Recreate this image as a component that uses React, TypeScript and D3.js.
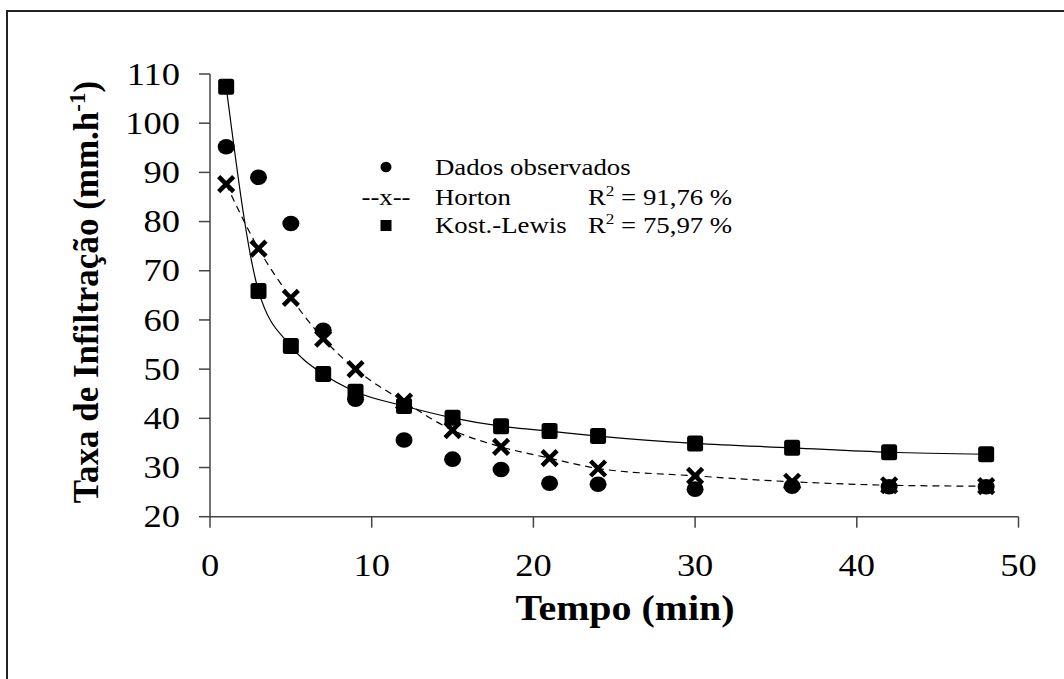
import React from "react";
import * as d3 from "d3";

// tempo (min) das leituras
const tempos = [1, 3, 5, 7, 9, 12, 15, 18, 21, 24, 30, 36, 42, 48];
// taxa de infiltração (mm/h)
const observados = [95.2, 89.0, 79.6, 57.9, 43.9, 35.6, 31.7, 29.6, 26.8, 26.6, 25.6, 26.2, 26.1, 26.1];
const horton = [87.6, 74.5, 64.5, 56.2, 50.0, 43.4, 37.6, 34.2, 31.9, 29.8, 28.3, 27.1, 26.4, 26.2];
const kostLewis = [107.4, 65.9, 54.7, 49.0, 45.4, 42.5, 40.1, 38.4, 37.4, 36.4, 34.9, 34.0, 33.1, 32.7];
const xTicks = [0, 10, 20, 30, 40, 50];
const yTicks = [20, 30, 40, 50, 60, 70, 80, 90, 100, 110];

const W = 1064;
const H = 679;
const plot = { left: 210, right: 1018.5, top: 74, bottom: 516.7 };
const SX = 1.14; // glyph stretch of the original picture
const font = "'Times New Roman', 'Liberation Serif', 'DejaVu Serif', serif";

const x = d3.scaleLinear().domain([0, 50]).range([plot.left, plot.right]);
const y = d3.scaleLinear().domain([20, 110]).range([plot.bottom, plot.top]);

const line = d3
    .line<number>()
    .x((d, i) => x(tempos[i]))
    .y((d) => y(d))
    .curve(d3.curveMonotoneX);

const Cross = ({ cx, cy, s = 7.5 }: { cx: number; cy: number; s?: number }) => (
    <path
        d={`M${cx - s},${cy - s}L${cx + s},${cy + s}M${cx - s},${cy + s}L${cx + s},${cy - s}`}
        stroke="#000"
        strokeWidth={4.5}
        fill="none"
    />
);

const Square = ({ cx, cy, s = 16 }: { cx: number; cy: number; s?: number }) => (
    <rect x={cx - s / 2} y={cy - s / 2} width={s} height={s} rx={2.5} fill="#000" />
);

const Dot = ({ cx, cy }: { cx: number; cy: number }) => (
    <ellipse cx={cx} cy={cy} rx={8.5} ry={7.8} fill="#000" />
);

const App = () => {
    const legendX = 386;
    const textX = 435;
    const r2X = 588;
    const rows = [175, 205, 233];

    return (
        <svg
            width={W}
            height={H}
            style={{ position: "absolute", left: 0, top: 0, background: "#fff" }}
            fontFamily={font}
        >
            <rect x={7} y={11} width={W + 20} height={H + 20} fill="#fff" stroke="#222" strokeWidth={2} />

            {/* eixos */}
            <line x1={plot.left} x2={plot.left} y1={plot.top} y2={plot.bottom} stroke="#444" strokeWidth={1.5} />
            <line x1={plot.left} x2={plot.right} y1={plot.bottom} y2={plot.bottom} stroke="#444" strokeWidth={1.5} />
            {yTicks.map((t) => (
                <g key={"y" + t}>
                    <line x1={plot.left - 11} x2={plot.left} y1={y(t)} y2={y(t)} stroke="#444" strokeWidth={1.5} />
                    <text
                        transform={`translate(180,${y(t)}) scale(${SX},1)`}
                        dy="0.33em"
                        textAnchor="end"
                        fontSize={32}
                    >
                        {t}
                    </text>
                </g>
            ))}
            {xTicks.map((t) => (
                <g key={"x" + t}>
                    <line x1={x(t)} x2={x(t)} y1={plot.bottom} y2={plot.bottom + 11} stroke="#444" strokeWidth={1.5} />
                    <text transform={`translate(${x(t)},576) scale(${SX},1)`} textAnchor="middle" fontSize={32}>
                        {t}
                    </text>
                </g>
            ))}

            {/* títulos */}
            <text transform={`translate(625,620) scale(${SX},1)`} textAnchor="middle" fontSize={35} fontWeight="bold">
                Tempo (min)
            </text>
            <text transform="translate(98,292) rotate(-90)" textAnchor="middle" fontSize={35} fontWeight="bold">
                Taxa de Infiltração (mm.h
                <tspan dy={-13} fontSize={23}>
                    -1
                </tspan>
                <tspan dy={13}>)</tspan>
            </text>

            {/* curvas ajustadas */}
            <path d={line(kostLewis) || ""} fill="none" stroke="#000" strokeWidth={1.2} />
            <path d={line(horton) || ""} fill="none" stroke="#000" strokeWidth={1.2} strokeDasharray="7,5" />

            {kostLewis.map((v, i) => (
                <Square key={"k" + i} cx={x(tempos[i])} cy={y(v)} />
            ))}
            {horton.map((v, i) => (
                <Cross key={"h" + i} cx={x(tempos[i])} cy={y(v)} />
            ))}
            {observados.map((v, i) => (
                <Dot key={"o" + i} cx={x(tempos[i])} cy={y(v)} />
            ))}

            {/* legenda */}
            <g fontSize={23.5}>
                <ellipse cx={legendX} cy={rows[0] - 8} rx={5.5} ry={5.2} fill="#000" />
                <text transform={`translate(${textX},${rows[0]}) scale(${SX},1)`}>Dados observados</text>

                <text transform={`translate(${legendX},${rows[1]}) scale(${SX},1)`} textAnchor="middle">
                    --x--
                </text>
                <text transform={`translate(${textX},${rows[1]}) scale(${SX},1)`}>Horton</text>
                <text transform={`translate(${r2X},${rows[1]}) scale(${SX},1)`}>
                    R<tspan dy={-9} fontSize={15}>2</tspan>
                    <tspan dy={9}> = 91,76 %</tspan>
                </text>

                <rect x={legendX - 5.5} y={rows[2] - 13} width={11} height={11} fill="#000" />
                <text transform={`translate(${textX},${rows[2]}) scale(${SX},1)`}>Kost.-Lewis</text>
                <text transform={`translate(${r2X},${rows[2]}) scale(${SX},1)`}>
                    R<tspan dy={-9} fontSize={15}>2</tspan>
                    <tspan dy={9}> = 75,97 %</tspan>
                </text>
            </g>
        </svg>
    );
};

export default App;
